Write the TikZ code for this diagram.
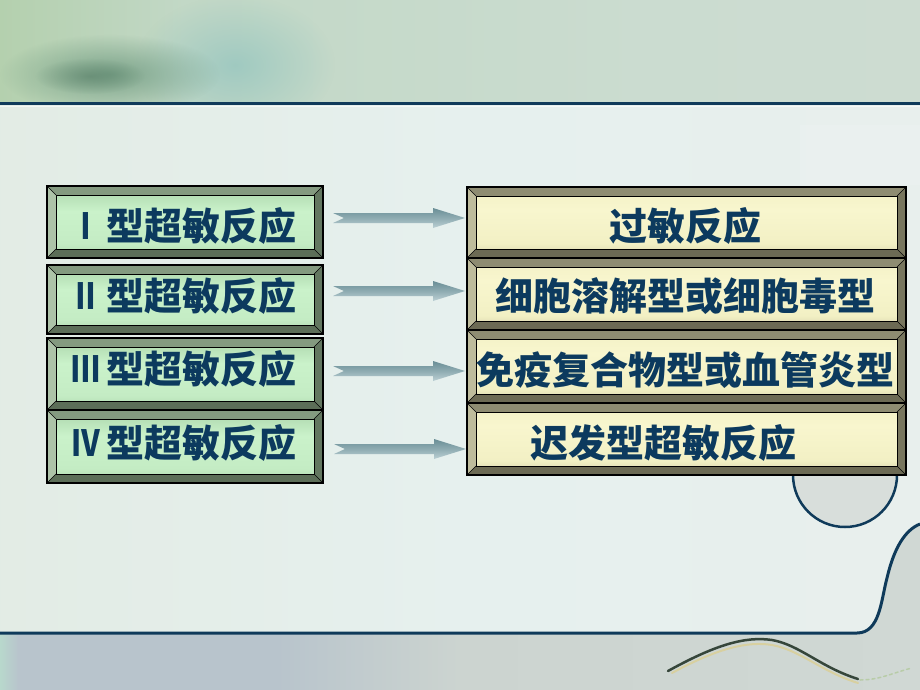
\documentclass[tikz,border=0pt]{standalone}
\usepackage{fontspec}
\newfontfamily\cjk{Noto Sans CJK SC}
\usetikzlibrary{calc,fadings}
\definecolor{navy}{HTML}{0F3A5A}
\definecolor{txtc}{HTML}{0C3A5E}
\definecolor{bgL}{HTML}{DFE8DC}
\definecolor{bgM}{HTML}{E6F0EE}
\definecolor{bgR}{HTML}{EAEEEC}
\definecolor{tb0}{HTML}{9FC38F}
\definecolor{tb1}{HTML}{A6C896}
\definecolor{tb2}{HTML}{C2D8C6}
\definecolor{tb3}{HTML}{CBDCD0}
\definecolor{tb4}{HTML}{D0DCD4}
\definecolor{bb0}{HTML}{A8C8A0}
\definecolor{bb1}{HTML}{B4D2BC}
\definecolor{bb2}{HTML}{B8D8CC}
\definecolor{bb3}{HTML}{B8C4CC}
\definecolor{bb4}{HTML}{CCD4D0}
\definecolor{bb5}{HTML}{D4DCD8}
\definecolor{lfA}{HTML}{94BE94}
\definecolor{lfB}{HTML}{C4ECC4}
\definecolor{lfC}{HTML}{CAF2CA}
\definecolor{lfD}{HTML}{A8D2A8}
\definecolor{rfA}{HTML}{ACA886}
\definecolor{rfB}{HTML}{F2F0C4}
\definecolor{rfC}{HTML}{F8F6CE}
\definecolor{rfD}{HTML}{BEBA96}
\definecolor{lbT}{HTML}{849A80}
\definecolor{lbL}{HTML}{ADC3A8}
\definecolor{lbB}{HTML}{5C6E58}
\definecolor{lbR}{HTML}{637760}
\definecolor{rbT}{HTML}{8E8C72}
\definecolor{rbL}{HTML}{BEBC9C}
\definecolor{rbB}{HTML}{6C6A54}
\definecolor{rbR}{HTML}{78765E}
\definecolor{arT}{HTML}{6A8E96}
\definecolor{arB}{HTML}{BCD0D4}
\definecolor{blobc}{HTML}{6A967C}
\definecolor{tealb}{HTML}{9CC8C0}
\definecolor{circf}{HTML}{D8DEDB}
\definecolor{sqd}{HTML}{36463A}
\definecolor{sqy}{HTML}{D8D0A0}
\definecolor{sqg}{HTML}{B8CCA8}
\pgfdeclarehorizontalshading{mainbg}{100bp}{color(0bp)=(bgL); color(50bp)=(bgM); color(100bp)=(bgR)}
\pgfdeclarehorizontalshading{topband}{100bp}{color(0bp)=(tb0); color(15bp)=(tb1); color(35bp)=(tb2); color(60bp)=(tb3); color(100bp)=(tb4)}
\pgfdeclarehorizontalshading{botband}{100bp}{color(0bp)=(bb0); color(20bp)=(bb1); color(25bp)=(bb2); color(26bp)=(bb3); color(40bp)=(bb3); color(50bp)=(bb4); color(100bp)=(bb5)}
\pgfdeclareverticalshading{lface}{100bp}{color(0bp)=(lfA); color(30bp)=(lfB); color(60bp)=(lfC); color(85bp)=(lfD); color(100bp)=(lfA)}
\pgfdeclareverticalshading{rface}{100bp}{color(0bp)=(rfA); color(30bp)=(rfB); color(62bp)=(rfC); color(85bp)=(rfB); color(100bp)=(rfD)}
\tikzfading[name=softblob, inner color=transparent!0, outer color=transparent!100]
\newcommand\bevbox[6]{%
  \fill[#2] (#1.north west) -- (#1.north east) -- ($(#1.north east)+(-9,9)$) -- ($(#1.north west)+(9,9)$) -- cycle;
  \fill[#3] (#1.north west) -- ($(#1.north west)+(9,9)$) -- ($(#1.south west)+(9,-9)$) -- (#1.south west) -- cycle;
  \fill[#4] (#1.south west) -- ($(#1.south west)+(9,-9)$) -- ($(#1.south east)+(-9,-9)$) -- (#1.south east) -- cycle;
  \fill[#5] (#1.north east) -- (#1.south east) -- ($(#1.south east)+(-9,-9)$) -- ($(#1.north east)+(-9,9)$) -- cycle;
  \shade[shading=#6] ($(#1.north west)+(9,9)$) rectangle ($(#1.south east)+(-9,-9)$);
  \draw[black, line width=1pt] ($(#1.north west)+(9,9)$) rectangle ($(#1.south east)+(-9,-9)$);
  \draw[black, line width=0.5pt] (#1.north west) -- ($(#1.north west)+(9,9)$) (#1.north east) -- ($(#1.north east)+(-9,9)$)
     (#1.south west) -- ($(#1.south west)+(9,-9)$) (#1.south east) -- ($(#1.south east)+(-9,-9)$);
  \draw[black, line width=1.2pt] (#1.north west) rectangle (#1.south east);
}
\newcommand\rnum[1]{\scalebox{0.8}[1]{#1}}
\tikzset{
  boxL/.style={minimum width=276pt, inner sep=0pt, outer sep=0pt},
  boxR/.style={minimum width=439pt, inner sep=0pt, outer sep=0pt},
  txt/.style={text=txtc, inner sep=0pt, font=\cjk\bfseries\fontsize{38}{40}\selectfont},
  numtxt/.style={text=txtc, inner sep=0pt, font=\cjk\bfseries\fontsize{36}{40}\selectfont},
  barrow/.pic={\shade[top color=arT, bottom color=arB, middle color=arT!55!arB]
     (0,-5) -- (100,-5) -- (100,-10) -- (132,0) -- (100,10) -- (100,5) -- (0,5) -- (11,0) -- cycle;}
}
\begin{document}
\begin{tikzpicture}[x=1pt,y=-1pt]
\useasboundingbox (0,0) rectangle (920,690);
% background
\shade[shading=mainbg] (0,0) rectangle (920,690);
\fill[white, opacity=.12] (800,125) rectangle (920,185);
\shade[shading=topband] (0,0) rectangle (920,103);
\begin{scope}
\clip (0,0) rectangle (920,103);
\fill[tealb, path fading=softblob, opacity=.9] (235,65) ellipse [x radius=100pt, y radius=70pt];
\fill[blobc, path fading=softblob, opacity=.8] (110,74) ellipse [x radius=110pt, y radius=40pt];
\fill[blobc!85!black, path fading=softblob, opacity=.6] (90,76) ellipse [x radius=55pt, y radius=18pt];
\end{scope}
\draw[navy, line width=3pt] (0,104) -- (920,104);
\draw[white, opacity=.6, line width=1pt] (0,107) -- (920,107);
% bottom band
\shade[shading=botband] (0,633) -- (857,633) .. controls (880,633) and (881,600) .. (887,578)
   .. controls (894,548) and (905,530) .. (920,524) -- (920,690) -- (0,690) -- cycle;
\draw[navy, line width=3pt] (0,633) -- (857,633) .. controls (880,633) and (881,600) .. (887,578)
   .. controls (894,548) and (905,530) .. (920,524);
\filldraw[fill=circf, draw=navy, line width=2.5pt] (845,475) circle [radius=52pt];
% brush stroke
\draw[sqy, line width=2pt, line cap=round] (672,673) .. controls (718,648) and (748,641) .. (772,645) .. controls (800,650) and (822,672) .. (858,683);
\draw[sqd, line width=2.5pt, line cap=round] (668,671) .. controls (715,645) and (745,636) .. (772,640) .. controls (800,645) and (820,667) .. (858,679);
\draw[sqg, line width=1.5pt, dashed, line cap=round] (860,680) .. controls (880,680) and (895,672) .. (912,668);
% left boxes
\node[boxL, minimum height=72pt] (L1) at (185,222) {};
\node[boxL, minimum height=69pt] (L2) at (185,299.5) {};
\node[boxL, minimum height=72pt] (L3) at (185,374) {};
\node[boxL, minimum height=73pt] (L4) at (185,446.5) {};
\foreach \n in {L1,L2,L3,L4}{\bevbox{\n}{lbT}{lbL}{lbB}{lbR}{lface}}
% right boxes
\node[boxR, minimum height=71pt] (R1) at (686.5,222.5) {};
\node[boxR, minimum height=72pt] (R2) at (686.5,294) {};
\node[boxR, minimum height=73pt] (R3) at (686.5,366.5) {};
\node[boxR, minimum height=72pt] (R4) at (686.5,439) {};
\foreach \n in {R1,R2,R3,R4}{\bevbox{\n}{rbT}{rbL}{rbB}{rbR}{rface}}
% arrows
\pic at ($(L1.east)+(10,-4)$) {barrow};
\pic at ($(L2.east)+(10,-8.5)$) {barrow};
\pic at ($(L3.east)+(10,-3)$) {barrow};
\pic at ($(L4.east)+(11,2.5)$) {barrow};
% texts
\node[numtxt, anchor=base] (n1) at (86,239) {\rnum{Ⅰ}};
\node[txt, anchor=base west] (t1) at (106,240) {型超敏反应};
\node[numtxt, anchor=base] (n2) at (86,309) {\rnum{Ⅱ}};
\node[txt, anchor=base west] (t2) at (106,310) {型超敏反应};
\node[numtxt, anchor=base] (n3) at (86,382) {\rnum{Ⅲ}};
\node[txt, anchor=base west] (t3) at (106,383) {型超敏反应};
\node[numtxt, anchor=base] (n4) at (86,456) {\rnum{Ⅳ}};
\node[txt, anchor=base west] (t4) at (106,457) {型超敏反应};
\node[txt, anchor=base] (s1) at (685,240) {过敏反应};
\node[txt, anchor=base] (s2) at (685,310) {细胞溶解型或细胞毒型};
\node[txt, anchor=base] (s3) at (685,384) {免疫复合物型或血管炎型};
\node[txt, anchor=base west] (s4) at (530,457) {迟发型超敏反应};
\end{tikzpicture}
\end{document}
